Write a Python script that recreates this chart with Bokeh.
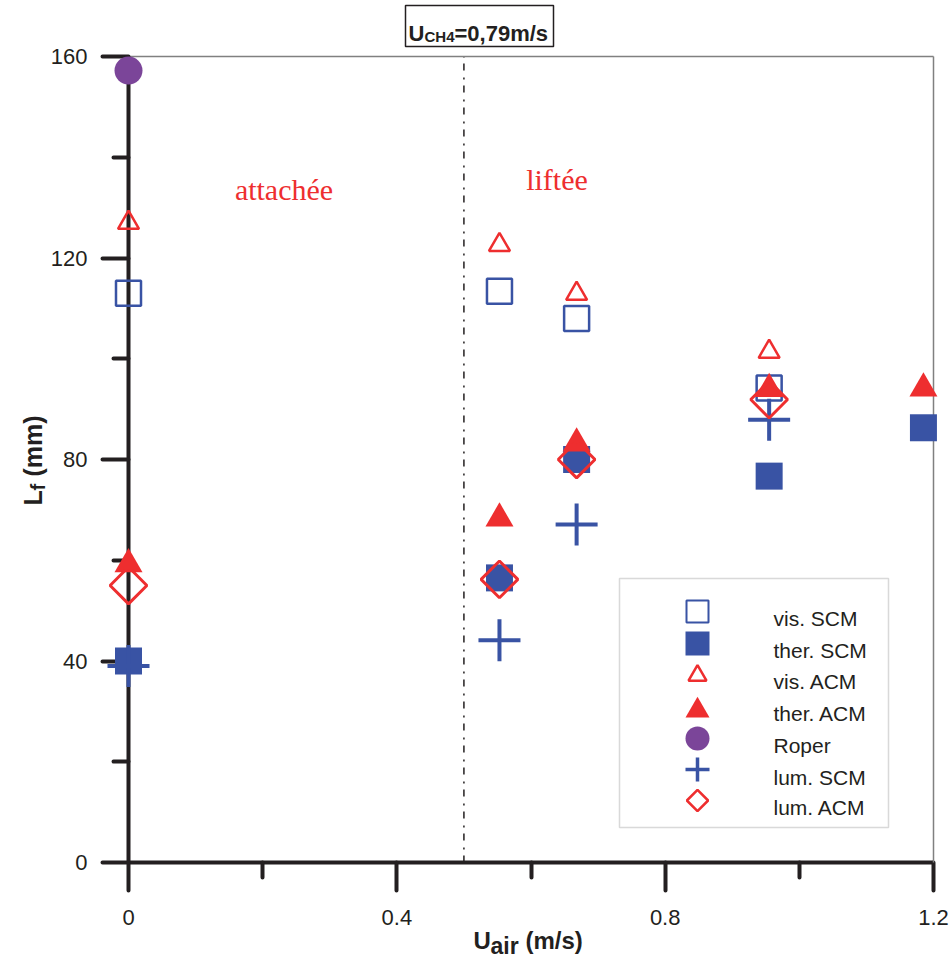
import math
from bokeh.plotting import figure
from bokeh.models import (Range1d, FixedTicker, Label, BoxAnnotation, LinearAxis)
from bokeh.embed import file_html
from bokeh.resources import INLINE

# ---------------- data ----------------
vis_scm_x = [0.0, 0.553, 0.668, 0.955]
vis_scm_y = [113.0, 113.4, 108.0, 94.2]

ther_scm_x = [0.0, 0.553, 0.668, 0.955, 1.185]
ther_scm_y = [40.0, 56.5, 80.0, 76.7, 86.3]

vis_acm_x = [0.0, 0.553, 0.668, 0.955]
vis_acm_y = [127.0, 122.6, 112.9, 101.4]

ther_acm_x = [0.0, 0.553, 0.668, 0.955, 1.185]
ther_acm_y = [59.2, 68.3, 83.2, 94.0, 94.1]

roper_x = [0.0]
roper_y = [157.2]

lum_scm_x = [0.0, 0.553, 0.668, 0.955]
lum_scm_y = [39.0, 44.1, 67.1, 87.9]

lum_acm_x = [0.0, 0.553, 0.668, 0.955]
lum_acm_y = [55.0, 56.2, 80.0, 91.9]

series_names = ["vis. SCM", "ther. SCM", "vis. ACM", "ther. ACM", "Roper", "lum. SCM", "lum. ACM"]

x_major = [0, 0.4, 0.8, 1.2]
x_labels = ["0", "0.4", "0.8", "1.2"]
x_minor = [0.2, 0.6, 1.0]
y_major = [0, 40, 80, 120, 160]
y_labels = ["0", "40", "80", "120", "160"]
y_minor = [20, 60, 100, 140]

regime_boundary = 0.5

# ---------------- styles ----------------
BLUE = "#3953a4"
RED = "#ee2e2f"
PURPLE = "#7b4599"
BLACK = "#231f20"
GRAY = "#808080"
SANS = "Liberation Sans"
SERIF = "Liberation Serif"

W, H = 951, 958
# layout: axis origin at pixel (128, 862), x=1.2 at 933, y=160 at 56
def dx(px):
    return (px - 128) * 1.2 / (933 - 128)

def dy(py):
    return (862 - py) * 160 / (862 - 56)

p = figure(width=W, height=H, title=None,
           x_range=Range1d(dx(0), dx(W)), y_range=Range1d(dy(H), dy(0)),
           output_backend="svg", toolbar_location=None,
           min_border_left=0, min_border_right=0,
           min_border_top=0, min_border_bottom=0)
p.background_fill_color = "white"
p.border_fill_color = "white"
p.outline_line_color = None
p.xgrid.visible = False
p.ygrid.visible = False

# main axes, drawn at the data origin
xa = p.xaxis[0]
ya = p.yaxis[0]
for ax in (xa, ya):
    ax.axis_line_color = BLACK
    ax.axis_line_width = 4
    ax.major_tick_line_color = BLACK
    ax.major_tick_line_width = 4
    ax.major_tick_line_cap = "round"
    ax.minor_tick_line_color = BLACK
    ax.minor_tick_line_width = 4
    ax.minor_tick_line_cap = "round"
    ax.major_tick_in = 0
    ax.minor_tick_in = 0
    ax.minor_tick_out = 15
    ax.major_label_text_font = SANS
    ax.major_label_text_font_size = "22px"
    ax.major_label_text_color = BLACK

xa.ticker = FixedTicker(ticks=x_major, minor_ticks=x_minor)
xa.major_label_overrides = {v: s for v, s in zip(x_major, x_labels)}
xa.major_tick_out = 28
xa.major_label_standoff = 19
xa.fixed_location = y_major[0]
xa.bounds = (x_major[0], x_major[-1])

ya.ticker = FixedTicker(ticks=y_major, minor_ticks=y_minor)
ya.major_label_overrides = {v: s for v, s in zip(y_major, y_labels)}
ya.major_tick_out = 26
ya.major_label_standoff = 15
ya.fixed_location = x_major[0]
ya.bounds = (y_major[0], y_major[-1])

# thin frame lines on top and right
def frame_axis(side, loc, bounds):
    ax = LinearAxis(fixed_location=loc, bounds=bounds, ticker=FixedTicker(ticks=[]),
                    axis_line_color=GRAY, axis_line_width=1.5,
                    major_tick_line_color=None, minor_tick_line_color=None,
                    major_label_text_alpha=0)
    p.add_layout(ax, side)

frame_axis("right", x_major[-1], (y_major[0], y_major[-1]))
frame_axis("above", y_major[-1], (x_major[0], x_major[-1]))

# regime boundary (dash-dot)
p.segment(x0=[regime_boundary], y0=[y_major[0]], x1=[regime_boundary], y1=[y_major[-1]],
          line_color=BLACK, line_width=1.5, line_dash="7 6 2 7")

# ---------------- series ----------------
styles = [
    dict(marker="square", size=25, fill_color=None, line_color=BLUE, line_width=2.5),
    dict(marker="square", size=27, fill_color=BLUE, line_color=None),
    dict(marker="triangle", size=21, fill_color=None, line_color=RED, line_width=2.5),
    dict(marker="triangle", size=28, fill_color=RED, line_color=None),
    dict(marker="circle", size=28, fill_color=PURPLE, line_color=None),
    dict(marker="cross", size=42, line_color=BLUE, line_width=4),
    dict(marker="square", size=26, angle=math.pi / 4, fill_color=None, line_color=RED, line_width=3),
]
series = [(vis_scm_x, vis_scm_y), (ther_scm_x, ther_scm_y), (vis_acm_x, vis_acm_y),
          (ther_acm_x, ther_acm_y), (roper_x, roper_y), (lum_scm_x, lum_scm_y),
          (lum_acm_x, lum_acm_y)]
for (xs, ys), st in zip(series, styles):
    p.scatter(xs, ys, level="overlay", **st)

# ---------------- legend (drawn by hand, layout in pixels) ----------------
p.add_layout(BoxAnnotation(left=dx(619), right=dx(888), top=dy(578), bottom=dy(827),
                           fill_color="white", fill_alpha=1.0, line_color=GRAY,
                           line_width=1.5, level="annotation"))
legend_styles = [
    dict(marker="square", size=22, fill_color=None, line_color=BLUE, line_width=2),
    dict(marker="square", size=24, fill_color=BLUE, line_color=None),
    dict(marker="triangle", size=18, fill_color=None, line_color=RED, line_width=2.5),
    dict(marker="triangle", size=24, fill_color=RED, line_color=None),
    dict(marker="circle", size=24, fill_color=PURPLE, line_color=None),
    dict(marker="cross", size=24, line_color=BLUE, line_width=3.5),
    dict(marker="square", size=15, angle=math.pi / 4, fill_color=None, line_color=RED, line_width=2.5),
]
row_centers = [611, 643, 675, 710, 738, 769, 800]
row_baselines = [618, 650, 681, 713, 745, 777, 807]
for name, st, yc, yb in zip(series_names, legend_styles, row_centers, row_baselines):
    p.scatter([dx(697)], [dy(yc)], level="overlay", **st)
    p.add_layout(Label(x=dx(773), y=dy(yb), text=name, text_font=SANS,
                       text_font_size="21px", text_color=BLACK,
                       text_align="left", text_baseline="alphabetic"))

# ---------------- text annotations ----------------
def lab(px, py, text, size, font=SANS, style="bold", color=BLACK, angle=0, align="left"):
    p.add_layout(Label(x=dx(px), y=dy(py), text=text, text_font=font, text_font_size=size,
                       text_font_style=style, text_color=color, angle=angle,
                       text_align=align, text_baseline="alphabetic"))

lab(283.5, 189, "attachée", "30px", font=SERIF, style="normal", color=RED, align="center")
lab(556.5, 179, "liftée", "30px", font=SERIF, style="normal", color=RED, align="center")

# title box
p.add_layout(BoxAnnotation(left=dx(405), right=dx(553), top=dy(5), bottom=dy(46),
                           fill_color=None, fill_alpha=0.0, line_color=BLACK,
                           line_width=1.5, line_alpha=1.0))
lab(408, 33, "U", "22px")
lab(424, 36, "CH4", "15px")
lab(454, 33, "=0,79m/s", "22px")

# x axis title
lab(473, 940, "U", "24px")
lab(490, 945, "air", "23px")
lab(525, 940, "(m/s)", "24px")

# y axis title (rotated)
lab(32, 505, "L", "25px", angle=math.pi / 2)
lab(37, 490, "f", "20px", angle=math.pi / 2)
lab(32, 476, "(mm)", "25px", angle=math.pi / 2)

open("out.html", "w").write(file_html(p, INLINE))
